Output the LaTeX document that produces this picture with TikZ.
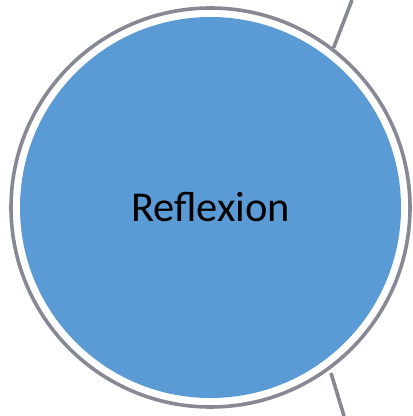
\documentclass[tikz,border=0pt]{standalone}
\usepackage{fontspec}
\setmainfont{Carlito}
\definecolor{ringgray}{RGB}{134,137,147}
\definecolor{fillblue}{RGB}{91,155,213}
\begin{document}
\begin{tikzpicture}[x=1pt,y=1pt,
  ring/.style={draw=ringgray,line width=3.6pt},
  link/.style={draw=ringgray,line width=3.6pt}]
\useasboundingbox (0,0) rectangle (413,416);
\coordinate (c) at (210.5,208.5);
\coordinate (t1) at (333.5,368);
\coordinate (t2) at (352,416);
\coordinate (b1) at (331,43);
\coordinate (b2) at (344,0);
\draw[link] (t1) -- (t2);
\draw[link] (b1) -- (b2);
\draw[ring,fill=white] (c) circle (199.5);
\node[circle,fill=fillblue,minimum size=381pt,inner sep=0pt,font=\fontsize{42.5}{50}\selectfont] (main) at (c) {Reflexion};
\end{tikzpicture}
\end{document}
